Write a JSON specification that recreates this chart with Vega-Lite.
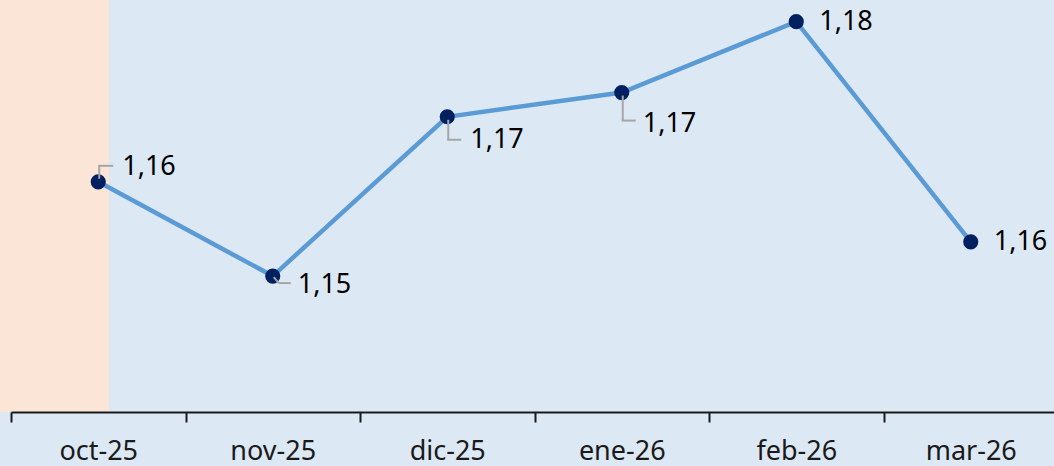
{
  "$schema": "https://vega.github.io/schema/vega-lite/v6.json",
  "width": 1043,
  "height": 412,
  "autosize": {"type": "none"},
  "padding": {"left": 11, "top": 0, "right": 0, "bottom": 54},
  "background": "#dde8f5",
  "config": {
    "view": {"stroke": null},
    "font": "Noto Sans",
    "locale": {"number": {"decimal": ",", "thousands": ".", "grouping": [3], "currency": ["$", ""]}}
  },
  "data": {
    "values": [
      {"month": "oct-25", "value": 1.1628},
      {"month": "nov-25", "value": 1.1515},
      {"month": "dic-25", "value": 1.1706},
      {"month": "ene-26", "value": 1.1735},
      {"month": "feb-26", "value": 1.1820},
      {"month": "mar-26", "value": 1.1556}
    ]
  },
  "encoding": {
    "x": {
      "field": "month",
      "type": "ordinal",
      "sort": null,
      "bandPosition": 0.5,
      "scale": {"type": "band", "range": [0, 1047], "paddingInner": 0, "paddingOuter": 0},
      "axis": {
        "title": null,
        "tickBand": "extent",
        "labelAngle": 0,
        "labelFontSize": 27,
        "labelColor": "#1a1a1a",
        "labelPadding": 16,
        "tickSize": 10,
        "tickColor": "#1a1a1a",
        "domainColor": "#1a1a1a",
        "tickWidth": 2,
        "domainWidth": 2,
        "zindex": 1,
        "grid": false
      }
    },
    "y": {
      "field": "value",
      "type": "quantitative",
      "scale": {"domain": [1.1352, 1.1846], "zero": false, "nice": false},
      "axis": null
    }
  },
  "layer": [
    {
      "mark": {"type": "rect", "color": "#fbe5d6", "width": 109, "xOffset": -44, "y2Offset": 54},
      "encoding": {
        "x": {"datum": "oct-25", "type": "ordinal"},
        "y": null
      }
    },
    {
      "mark": {"type": "line", "color": "#5b9bd5", "strokeWidth": 4.5}
    },
    {
      "mark": {"type": "point", "filled": true, "color": "#002060", "size": 230, "opacity": 1}
    },
    {
      "transform": [{"filter": "datum.month === 'oct-25'"}],
      "mark": {"type": "rule", "color": "#a6a6a6", "strokeWidth": 2, "xOffset": 1, "yOffset": -3, "y2Offset": -16},
      "encoding": {"y2": {"field": "value"}}
    },
    {
      "transform": [{"filter": "datum.month === 'oct-25'"}],
      "mark": {"type": "rule", "color": "#a6a6a6", "strokeWidth": 2, "xOffset": 0, "x2Offset": 15, "yOffset": -16, "y2Offset": -16},
      "encoding": {"x2": {"field": "month"}, "y2": {"field": "value"}}
    },
    {
      "transform": [{"filter": "datum.month === 'nov-25'"}],
      "mark": {"type": "rule", "color": "#a6a6a6", "strokeWidth": 2, "xOffset": 1, "x2Offset": 6, "yOffset": 1, "y2Offset": 7},
      "encoding": {"x2": {"field": "month"}, "y2": {"field": "value"}}
    },
    {
      "transform": [{"filter": "datum.month === 'nov-25'"}],
      "mark": {"type": "rule", "color": "#a6a6a6", "strokeWidth": 2, "xOffset": 6, "x2Offset": 18, "yOffset": 7, "y2Offset": 7},
      "encoding": {"x2": {"field": "month"}, "y2": {"field": "value"}}
    },
    {
      "transform": [{"filter": "datum.month === 'dic-25' || datum.month === 'ene-26'"}],
      "mark": {"type": "rule", "color": "#a6a6a6", "strokeWidth": 2, "xOffset": 1, "yOffset": 3, "y2Offset": {"expr": "datum.month === 'dic-25' ? 23 : 28"}},
      "encoding": {"y2": {"field": "value"}}
    },
    {
      "transform": [{"filter": "datum.month === 'dic-25' || datum.month === 'ene-26'"}],
      "mark": {"type": "rule", "color": "#a6a6a6", "strokeWidth": 2, "xOffset": 0, "x2Offset": 14, "yOffset": {"expr": "datum.month === 'dic-25' ? 23 : 28"}, "y2Offset": {"expr": "datum.month === 'dic-25' ? 23 : 28"}},
      "encoding": {"x2": {"field": "month"}, "y2": {"field": "value"}}
    },
    {
      "transform": [{"filter": "datum.month === 'oct-25'"}],
      "mark": {"type": "text", "align": "left", "baseline": "middle", "dx": 24, "dy": -15, "fontSize": 27, "color": "#000000"},
      "encoding": {"text": {"field": "value", "type": "quantitative", "format": ".2f"}}
    },
    {
      "transform": [{"filter": "datum.month === 'nov-25'"}],
      "mark": {"type": "text", "align": "left", "baseline": "middle", "dx": 25, "dy": 9, "fontSize": 27, "color": "#000000"},
      "encoding": {"text": {"field": "value", "type": "quantitative", "format": ".2f"}}
    },
    {
      "transform": [{"filter": "datum.month === 'dic-25'"}],
      "mark": {"type": "text", "align": "left", "baseline": "middle", "dx": 23, "dy": 23, "fontSize": 27, "color": "#000000"},
      "encoding": {"text": {"field": "value", "type": "quantitative", "format": ".2f"}}
    },
    {
      "transform": [{"filter": "datum.month === 'ene-26'"}],
      "mark": {"type": "text", "align": "left", "baseline": "middle", "dx": 21, "dy": 31, "fontSize": 27, "color": "#000000"},
      "encoding": {"text": {"field": "value", "type": "quantitative", "format": ".2f"}}
    },
    {
      "transform": [{"filter": "datum.month === 'feb-26' || datum.month === 'mar-26'"}],
      "mark": {"type": "text", "align": "left", "baseline": "middle", "dx": 23, "dy": 0, "fontSize": 27, "color": "#000000"},
      "encoding": {"text": {"field": "value", "type": "quantitative", "format": ".2f"}}
    }
  ]
}
